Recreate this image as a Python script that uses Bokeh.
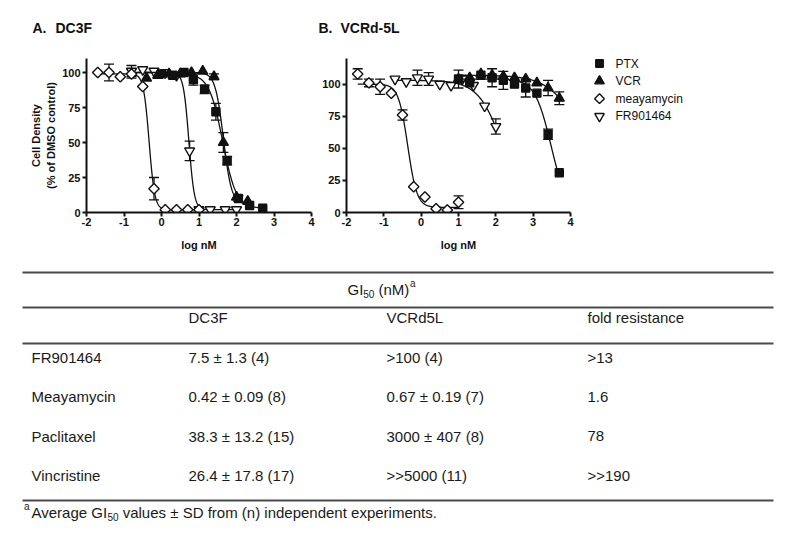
import numpy as np
from bokeh.plotting import figure
from bokeh.models import Range1d, FixedTicker, ColumnDataSource, Whisker, TeeHead
from bokeh.layouts import column, row
from bokeh.embed import file_html
from bokeh.resources import INLINE
from bokeh.core.properties import value

FONT = "Liberation Sans"
INK = "#111111"

# ---------------- Panel A: DC3F (log nM, % of DMSO control, SD) ----------------
a_ptx_x = [0.0, 0.3, 0.6, 0.85, 1.15, 1.45, 1.75, 2.05, 2.35, 2.7]
a_ptx_y = [99, 98, 100, 95, 88, 72, 37, 10, 5, 3]
a_ptx_e = [0, 2, 0, 4, 3, 6, 3, 2, 0, 0]

a_vcr_x = [-0.4, -0.1, 0.2, 0.5, 0.8, 1.1, 1.4, 1.65, 2.0, 2.3]
a_vcr_y = [96, 98, 99, 99, 100, 101, 97, 50, 11, 8]
a_vcr_e = [0, 0, 0, 0, 0, 0, 2, 7, 0, 0]

a_mea_x = [-1.7, -1.4, -1.1, -0.8, -0.5, -0.2, 0.1, 0.4, 0.7, 1.0]
a_mea_y = [100, 100, 97, 99, 90, 17, 2, 2, 2, 2]
a_mea_e = [0, 6, 0, 3, 0, 8, 0, 0, 0, 0]

a_fr_x = [-0.8, -0.5, -0.2, 0.1, 0.4, 0.75, 1.0, 1.3, 1.7, 2.0]
a_fr_y = [101, 102, 101, 100, 98, 44, 2, 2, 2, 2]
a_fr_e = [4, 2, 0, 0, 0, 7, 0, 0, 0, 0]

# fitted curves: [top, bottom, log GI50, hill slope]
a_ptx_fit = [99, 3, 1.63, 2.4]
a_vcr_fit = [100, 6, 1.65, 4.0]
a_mea_fit = [99, 2, -0.33, 5.8]
a_fr_fit = [100, 2, 0.73, 6.0]

# ---------------- Panel B: VCRd-5L ----------------
b_ptx_x = [1.0, 1.3, 1.6, 1.9, 2.2, 2.5, 2.8, 3.1, 3.4, 3.7]
b_ptx_y = [104, 101, 107, 105, 103, 100, 97, 93, 61, 31]
b_ptx_e = [7, 0, 0, 7, 7, 0, 7, 0, 4, 0]

b_vcr_x = [1.0, 1.3, 1.6, 1.9, 2.2, 2.5, 2.8, 3.1, 3.4, 3.7]
b_vcr_y = [104, 105, 108, 107, 106, 105, 104, 101, 97, 89]
b_vcr_e = [0, 0, 0, 0, 0, 0, 0, 0, 6, 5]

b_mea_x = [-1.7, -1.4, -1.1, -0.8, -0.5, -0.2, 0.1, 0.4, 0.7, 1.0]
b_mea_y = [108, 101, 98, 93, 76, 20, 12, 3, 2, 8]
b_mea_e = [4, 3, 6, 0, 4, 0, 0, 0, 0, 5]

b_fr_x = [-0.7, -0.4, -0.1, 0.2, 0.5, 0.8, 1.1, 1.4, 1.7, 2.0]
b_fr_y = [104, 102, 105, 104, 100, 99, 104, 99, 83, 67]
b_fr_e = [0, 0, 6, 5, 0, 0, 0, 0, 0, 6]

b_ptx_fit = [104, 0, 3.48, 2.0]
b_vcr_fit = [107, 0, 4.4, 1.0]
b_mea_fit = [100, 4, -0.36, 3.5]
b_fr_fit = [103, 0, 2.2, 1.3]

panel_titles = [("A.", "DC3F"), ("B.", "VCRd-5L")]
series_names = ["PTX", "VCR", "meayamycin", "FR901464"]
x_ticks = [-2, -1, 0, 1, 2, 3, 4]
x_tick_labels = ["-2", "-1", "0", "1", "2", "3", "4"]
y_ticks = [0, 25, 50, 75, 100]
y_tick_labels = ["0", "25", "50", "75", "100"]

# ---------------- Table ----------------
table_cols = ["DC3F", "VCRd5L", "fold resistance"]
table_rows = ["FR901464", "Meayamycin", "Paclitaxel", "Vincristine"]
table_dc3f = ["7.5 \u00b1 1.3 (4)", "0.42 \u00b1 0.09 (8)", "38.3 \u00b1 13.2 (15)", "26.4 \u00b1 17.8 (17)"]
table_vcrd5l = [">100 (4)", "0.67 \u00b1 0.19 (7)", "3000 \u00b1 407 (8)", ">>5000 (11)"]
table_fold = [">13", "1.6", "78", ">>190"]

# ---------------- styling ----------------
MARK = {
    "PTX": dict(marker="square", size=8, angle=0.0, fill_color=INK),
    "VCR": dict(marker="triangle", size=10, angle=0.0, fill_color=INK),
    "meayamycin": dict(marker="square", size=7.4, angle=np.pi / 4, fill_color="white"),
    "FR901464": dict(marker="inverted_triangle", size=10, angle=0.0, fill_color="white"),
}

TOP_H = 45          # title strip height
ROW_H = 213         # plot row height
BORDER_TOP = 13
BORDER_BOTTOM = 46


def logistic(x, fit):
    top, bottom, c, h = fit
    return bottom + (top - bottom) / (1.0 + 10.0 ** ((x - c) * h))


def bare(p):
    p.outline_line_color = None
    p.grid.visible = False
    p.background_fill_color = "white"
    p.border_fill_color = "white"


def style_axes(p, ylabel=None):
    for ax in p.axis:
        ax.axis_line_width = 2
        ax.axis_line_color = INK
        ax.major_tick_line_width = 2
        ax.major_tick_line_color = INK
        ax.major_tick_out = 4
        ax.major_tick_in = 0
        ax.minor_tick_line_color = None
        ax.major_label_text_font = FONT
        ax.major_label_text_font_style = "bold"
        ax.major_label_text_font_size = "11px"
        ax.major_label_text_color = INK
        ax.axis_label_text_font = FONT
        ax.axis_label_text_font_style = "bold"
        ax.axis_label_text_font_size = "11px"
        ax.axis_label_text_color = INK
    p.xaxis.ticker = FixedTicker(ticks=x_ticks)
    p.xaxis.major_label_overrides = {t: s for t, s in zip(x_ticks, x_tick_labels)}
    p.yaxis.ticker = FixedTicker(ticks=y_ticks)
    p.yaxis.major_label_overrides = {t: s for t, s in zip(y_ticks, y_tick_labels)}
    p.xaxis.major_label_standoff = 1
    p.yaxis.major_label_standoff = 2
    p.xaxis.axis_label = "log nM"
    p.xaxis.axis_label_standoff = 10
    if ylabel:
        p.yaxis.axis_label = ylabel
        p.yaxis.axis_label_standoff = 2
        p.yaxis.axis_label_text_line_height = 1.3


def add_series(p, name, xs, ys, es, fit):
    st = MARK[name]
    ex = [x for x, e in zip(xs, es) if e > 0]
    eu = [y + e for y, e in zip(ys, es) if e > 0]
    el = [y - e for y, e in zip(ys, es) if e > 0]
    src = ColumnDataSource(dict(x=ex, upper=eu, lower=el))
    w = Whisker(source=src, base="x", upper="upper", lower="lower", dimension="height",
                line_color=INK, line_width=1.3, level="underlay",
                upper_head=TeeHead(size=10, line_color=INK, line_width=1.3),
                lower_head=TeeHead(size=10, line_color=INK, line_width=1.3))
    p.add_layout(w)
    cx = np.linspace(min(xs), max(xs), 300)
    p.line(cx, logistic(cx, fit), line_color=INK, line_width=1.3)
    p.scatter(list(xs), list(ys), marker=st["marker"], size=st["size"], angle=st["angle"],
              fill_color=st["fill_color"], line_color=INK, line_width=1.4)


def make_panel(width, left, right, ytop):
    p = figure(width=width, height=ROW_H, x_range=Range1d(-2, 4), y_range=Range1d(0, ytop),
               output_backend="svg", toolbar_location=None,
               min_border_left=left, min_border_right=right,
               min_border_top=BORDER_TOP, min_border_bottom=BORDER_BOTTOM)
    bare(p)
    return p


# Title strip (page-pixel coordinates)
pTitle = figure(width=800, height=TOP_H, x_range=Range1d(0, 800), y_range=Range1d(TOP_H, 0),
                output_backend="svg", toolbar_location=None, x_axis_type=None, y_axis_type=None,
                min_border=0)
bare(pTitle)
TITLE_X = [32, 55, 318, 340]
pTitle.text(x=TITLE_X, y=[27] * 4,
            text=[panel_titles[0][0], panel_titles[0][1], panel_titles[1][0], panel_titles[1][1]],
            text_font=value(FONT), text_font_style="bold", text_font_size="14px",
            text_baseline="middle", text_align="left", text_color=INK)

# Panel A
pA = make_panel(315, 86, 4, 110)
style_axes(pA, "Cell Density\n(% of DMSO control)")
add_series(pA, "FR901464", a_fr_x, a_fr_y, a_fr_e, a_fr_fit)
add_series(pA, "meayamycin", a_mea_x, a_mea_y, a_mea_e, a_mea_fit)
add_series(pA, "VCR", a_vcr_x, a_vcr_y, a_vcr_e, a_vcr_fit)
add_series(pA, "PTX", a_ptx_x, a_ptx_y, a_ptx_e, a_ptx_fit)

# Panel B
pB = make_panel(265, 31, 10, 120)
style_axes(pB)
add_series(pB, "FR901464", b_fr_x, b_fr_y, b_fr_e, b_fr_fit)
add_series(pB, "meayamycin", b_mea_x, b_mea_y, b_mea_e, b_mea_fit)
add_series(pB, "VCR", b_vcr_x, b_vcr_y, b_vcr_e, b_vcr_fit)
add_series(pB, "PTX", b_ptx_x, b_ptx_y, b_ptx_e, b_ptx_fit)

# Legend panel: frame aligned with the plot frames, page-pixel coordinates
F_TOP = TOP_H + BORDER_TOP
F_BOT = TOP_H + ROW_H - BORDER_BOTTOM
pL = figure(width=219, height=ROW_H, x_range=Range1d(580, 799), y_range=Range1d(F_BOT, F_TOP),
            output_backend="svg", toolbar_location=None, x_axis_type=None, y_axis_type=None,
            min_border_left=0, min_border_right=0,
            min_border_top=BORDER_TOP, min_border_bottom=BORDER_BOTTOM)
bare(pL)
LEG_X, LEG_Y0, LEG_DY = 599, 63, 17.6
for i, name in enumerate(series_names):
    st = MARK[name]
    pL.scatter([LEG_X], [LEG_Y0 + i * LEG_DY], marker=st["marker"], size=st["size"] - 0.5,
               angle=st["angle"], fill_color=st["fill_color"], line_color=INK, line_width=1.4)
pL.text(x=[LEG_X + 16] * len(series_names),
        y=[LEG_Y0 + i * LEG_DY for i in range(len(series_names))],
        text=series_names, text_font=value(FONT), text_font_size="12px",
        text_baseline="middle", text_align="left", text_color=INK)

# Table figure (page-pixel coordinates)
T_TOP = TOP_H + ROW_H
T_H = 282
pT = figure(width=800, height=T_H, x_range=Range1d(0, 800), y_range=Range1d(T_TOP + T_H, T_TOP),
            output_backend="svg", toolbar_location=None, x_axis_type=None, y_axis_type=None,
            min_border=0)
bare(pT)

RULE_Y = [272, 307, 343, 500]
pT.segment(x0=[22] * 4, y0=RULE_Y, x1=[773] * 4, y1=RULE_Y, line_color="#4a4a4a", line_width=2)

FS = "15px"
SUB = "10px"
TXT = "#1a1a1a"


def ttext(xs, ys, texts, size=FS):
    pT.text(x=xs, y=ys, text=texts, text_font=value(FONT), text_font_size=size,
            text_baseline="middle", text_align="left", text_color=TXT)


# header: GI50 (nM)^a
HY = 289
ttext([347], [HY], ["GI"])
ttext([362.8], [HY + 4], ["50"], SUB)
ttext([378], [HY], ["(nM)"])
ttext([409.5], [HY - 6], ["a"], SUB)

COL_X = [31, 188, 386, 587]
ttext(COL_X[1:], [317] * 3, table_cols)

ROW_Y0, ROW_DY = 357, 39.3
for i in range(len(table_rows)):
    y = ROW_Y0 + i * ROW_DY
    ttext(COL_X, [y] * 4, [table_rows[i], table_dc3f[i], table_vcrd5l[i], table_fold[i]])

# footnote
FY = 512
ttext([23.5], [FY - 6], ["a"], SUB)
ttext([31], [FY], ["Average GI"])
ttext([106.9], [FY + 4], ["50"], SUB)
ttext([122.2], [FY], ["values \u00b1 SD from (n) independent experiments."])

layout = column(pTitle, row(pA, pB, pL), pT)
open("out.html", "w").write(file_html(layout, INLINE))
